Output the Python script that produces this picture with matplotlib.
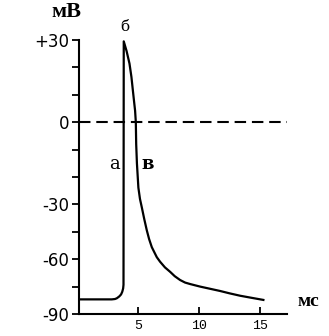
import numpy as np
import matplotlib
matplotlib.use("Agg")
import matplotlib.pyplot as plt

# action potential trace, time in ms, membrane potential in mV
t_ms = [0.15, 2.84, 3.10, 3.25, 3.45, 3.60, 3.70, 3.77, 3.80, 3.82,
        4.05, 4.29, 4.45, 4.57, 4.68, 4.75, 4.81, 4.84, 4.90, 5.02,
        5.15, 5.30, 5.50, 5.71, 5.90, 6.12, 6.35, 6.53, 6.80, 7.20,
        7.62, 8.00, 8.44, 8.85, 9.26, 10.08, 10.90, 11.72, 12.50, 13.36,
        14.18, 15.27]
v_mv = [-82.0, -82.0, -81.8, -81.4, -80.4, -79.3, -77.8, -76.0, -74.0, 29.5,
        26.0, 21.4, 16.5, 11.5, 7.0, 4.2, 0.0, -8.0, -15.0, -23.9,
        -28.0, -31.6, -38.0, -44.2, -49.0, -53.4, -56.5, -58.9, -61.4, -64.5,
        -66.9, -69.3, -71.4, -72.8, -73.6, -75.0, -76.2, -77.4, -78.7, -80.0,
        -81.0, -82.3]

y_major = [30, 0, -30, -60, -90]
y_major_labels = ["+30", "0", "-30", "-60", "-90"]
y_minor = [20, 10, -10, -20, -45, -75]
x_ticks = [5, 10, 15]


# below -30 mV the axis is compressed: 15 mV take the room of 10 mV
def fwd(v):
    v = np.asarray(v, dtype=float)
    return np.where(v >= -30, v, -30 + (v + 30) * 2.0 / 3.0)


def inv(u):
    u = np.asarray(u, dtype=float)
    return np.where(u >= -30, u, -30 + (u + 30) * 1.5)


fig = plt.figure(figsize=(3.29, 3.36), dpi=100)
ax = fig.add_axes([0.2401, 0.0655, 0.632, 0.8155])
ax.set_yscale("function", functions=(fwd, inv))

ax.plot(t_ms, v_mv, color="black", lw=1.6, solid_joinstyle="round")
ax.axhline(0, color="black", lw=1.5, linestyle=(0, (5.5, 2.8)))

ax.set_xlim(0.15, 17.2)
ax.set_ylim(-90, 30)

for side in ("top", "right"):
    ax.spines[side].set_visible(False)
for side in ("left", "bottom"):
    ax.spines[side].set_linewidth(1.5)

ax.set_yticks(y_major)
ax.set_yticklabels(y_major_labels, fontfamily="DejaVu Sans", fontsize=12)
ax.set_yticks(y_minor, minor=True)
ax.tick_params(axis="y", which="both", direction="out", length=5, width=1.3, pad=2)

ax.set_xticks(x_ticks)
ax.set_xticklabels([str(x) for x in x_ticks], fontfamily="Liberation Mono", fontsize=9.5)
ax.tick_params(axis="x", which="both", direction="in", length=5, width=1.3, pad=4)
ax.xaxis.set_minor_locator(matplotlib.ticker.NullLocator())

serif = "DejaVu Serif"
fig.text(66 / 329, 1 - 12 / 336, "мВ", fontfamily="Liberation Serif", fontweight="bold",
         fontsize=16, ha="center", va="center")
fig.text(308 / 329, 1 - 301 / 336, "мс", fontfamily="Liberation Serif", fontweight="bold",
         fontsize=14, ha="center", va="center")
fig.text(125 / 329, 1 - 27 / 336, "б", fontfamily=serif, fontsize=11, ha="center", va="center")
fig.text(114 / 329, 1 - 164 / 336, "а", fontfamily=serif, fontsize=13, ha="center", va="center")
fig.text(148 / 329, 1 - 164 / 336, "в", fontfamily=serif, fontsize=13, fontweight="bold",
         ha="center", va="center")

fig.savefig("out.png", dpi=100)
